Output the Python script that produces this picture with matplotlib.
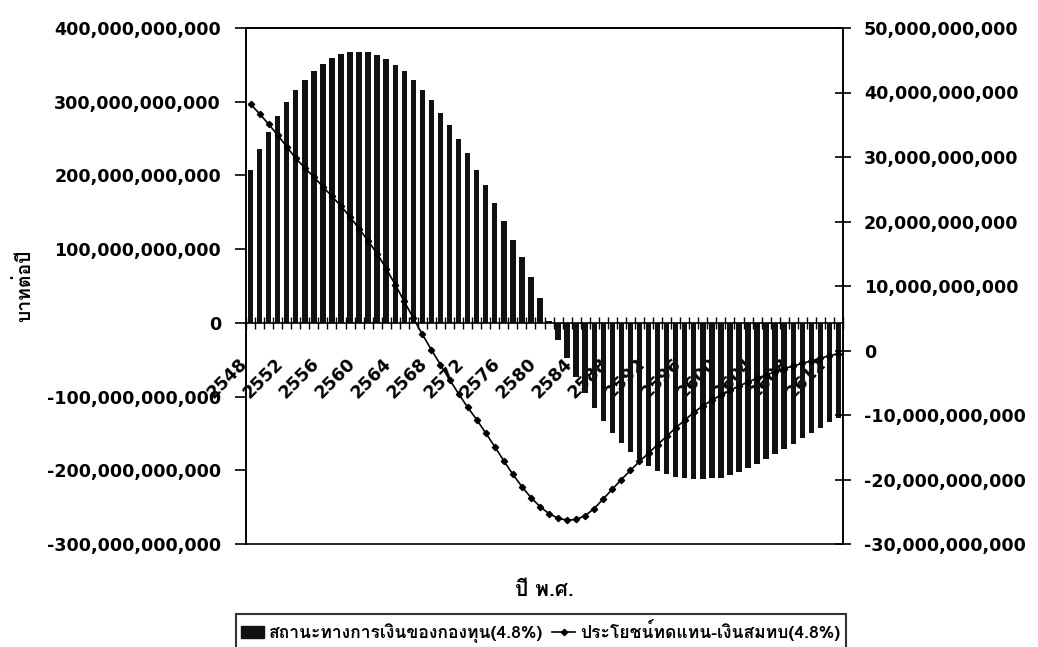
import numpy as np
import matplotlib
matplotlib.use('Agg')
import matplotlib.pyplot as plt
from matplotlib import font_manager
from matplotlib.ft2font import FT2Font
from matplotlib.ticker import FuncFormatter, MultipleLocator
from matplotlib.patches import Patch
from matplotlib.lines import Line2D

# Buddhist-era years 2548..2613
years = list(range(2548, 2614))

# fund financial position (baht, billions) - left axis, bars
fund_position = [207.6, 235.6, 259, 281, 300, 316, 330, 341, 351, 359,
                 365, 367, 368, 367, 364, 358, 350, 341, 329, 316,
                 302, 285, 268, 250, 230, 208, 187, 162, 138, 113,
                 89, 62, 34, 3, -23, -47, -74, -95, -115, -133,
                 -149, -163, -175, -185, -194, -201, -205, -208.5, -211, -212,
                 -212, -211, -210, -207, -202, -197, -192, -185, -178, -170.5,
                 -164, -156, -149, -142, -135, -128.5]

# benefits minus contributions (baht, billions) - right axis, line
benefit_gap = [38.2, 36.7, 35.1, 33.4, 31.6, 29.8, 28.3, 26.9, 25.4, 23.9,
               22.4, 20.7, 18.9, 17.0, 15.0, 12.7, 10.2, 7.6, 5.0, 2.5,
               0.1, -2.2, -4.5, -6.7, -8.8, -10.7, -12.8, -14.9, -17.1, -19.2,
               -21.1, -22.8, -24.2, -25.3, -26.0, -26.3, -26.2, -25.6, -24.5, -23.0,
               -21.5, -20.0, -18.6, -17.2, -15.9, -14.6, -13.3, -12.0, -10.8, -9.6,
               -8.6, -7.7, -6.9, -6.2, -5.5, -4.9, -4.3, -3.8, -3.3, -2.8,
               -2.4, -2.0, -1.6, -1.2, -0.8, -0.5]

label_every = 4
bar_name = 'สถานะทางการเงินของกองทุน(4.8%)'
line_name = 'ประโยชน์ทดแทน-เงินสมทบ(4.8%)'
y_title = 'บาทต่อปี'
x_title = 'ปี พ.ศ.'


def thai_family():
    """First installed font that has Thai glyphs."""
    for entry in font_manager.fontManager.ttflist:
        try:
            if 0x0E01 in FT2Font(entry.fname).get_charmap():
                return entry.name
        except Exception:
            continue
    return 'DejaVu Sans'


THAI = [thai_family(), 'DejaVu Sans']
NUM_FONT = dict(family='DejaVu Sans', weight='bold', size=12.6)

x = np.arange(len(years))
fund = np.array(fund_position) * 1e9
gap = np.array(benefit_gap) * 1e9

fig = plt.figure(figsize=(10.38, 6.47), dpi=100)
ax = fig.add_axes([246 / 1038, 1 - 544 / 647, 597 / 1038, 516 / 647])
ax2 = ax.twinx()

ax.bar(x, fund, width=0.6, color='#111111', zorder=2)
ax2.plot(x, gap, color='black', lw=1.2, marker='D', ms=3.2, zorder=3)

comma = FuncFormatter(lambda v, p: f'{v:,.0f}')

ax.set_xlim(-0.5, len(years) - 0.5)
ax.set_ylim(-300e9, 400e9)
ax.yaxis.set_major_locator(MultipleLocator(100e9))
ax.yaxis.set_major_formatter(comma)
ax2.set_ylim(-30e9, 50e9)
ax2.yaxis.set_major_locator(MultipleLocator(10e9))
ax2.yaxis.set_major_formatter(comma)

# category axis sits on the zero line, box border kept by the twin's spines
ax.spines['bottom'].set_position(('data', 0))
for s in ax.spines.values():
    s.set_linewidth(1.2)
for s in ax2.spines.values():
    s.set_linewidth(1.2)

ax.set_xticks(x[::label_every])
ax.set_xticklabels([str(y) for y in years[::label_every]], rotation=45,
                   ha='right', fontdict=NUM_FONT)
ax.set_xticks(np.arange(-0.5, len(years), 1), minor=True)
ax.tick_params(axis='x', which='major', length=0, pad=23)
ax.tick_params(axis='x', which='minor', direction='inout', length=9, width=1)
ax.tick_params(axis='y', direction='out', length=8, width=1.2, pad=10)
ax2.tick_params(axis='y', direction='inout', length=12, width=1.2, pad=9)
for lab in ax.get_yticklabels() + ax2.get_yticklabels():
    lab.set_fontproperties(font_manager.FontProperties(**NUM_FONT))

ax.set_ylabel(y_title, family=THAI, weight='bold', fontsize=14)
ax.yaxis.set_label_coords(-0.355, 0.5)
fig.text((246 + 843) / 2 / 1038, 1 - 590 / 647, x_title, family=THAI,
         weight='bold', fontsize=15, ha='center', va='center')

handles = [Patch(facecolor='#111111', edgecolor='#111111'),
           Line2D([], [], color='black', lw=1.2, marker='D', ms=3.2)]
leg = fig.legend(handles, [bar_name, line_name], loc='center', ncol=2,
                 bbox_to_anchor=(541 / 1038, 1 - 631 / 647),
                 prop=dict(family=THAI, weight='bold', size=12.6),
                 frameon=True, fancybox=False, handlelength=1.3,
                 handletextpad=0.3, columnspacing=0.5, borderpad=0.3)
leg.get_frame().set_edgecolor('black')
leg.get_frame().set_linewidth(1.5)

fig.savefig('out.png', dpi=100)
